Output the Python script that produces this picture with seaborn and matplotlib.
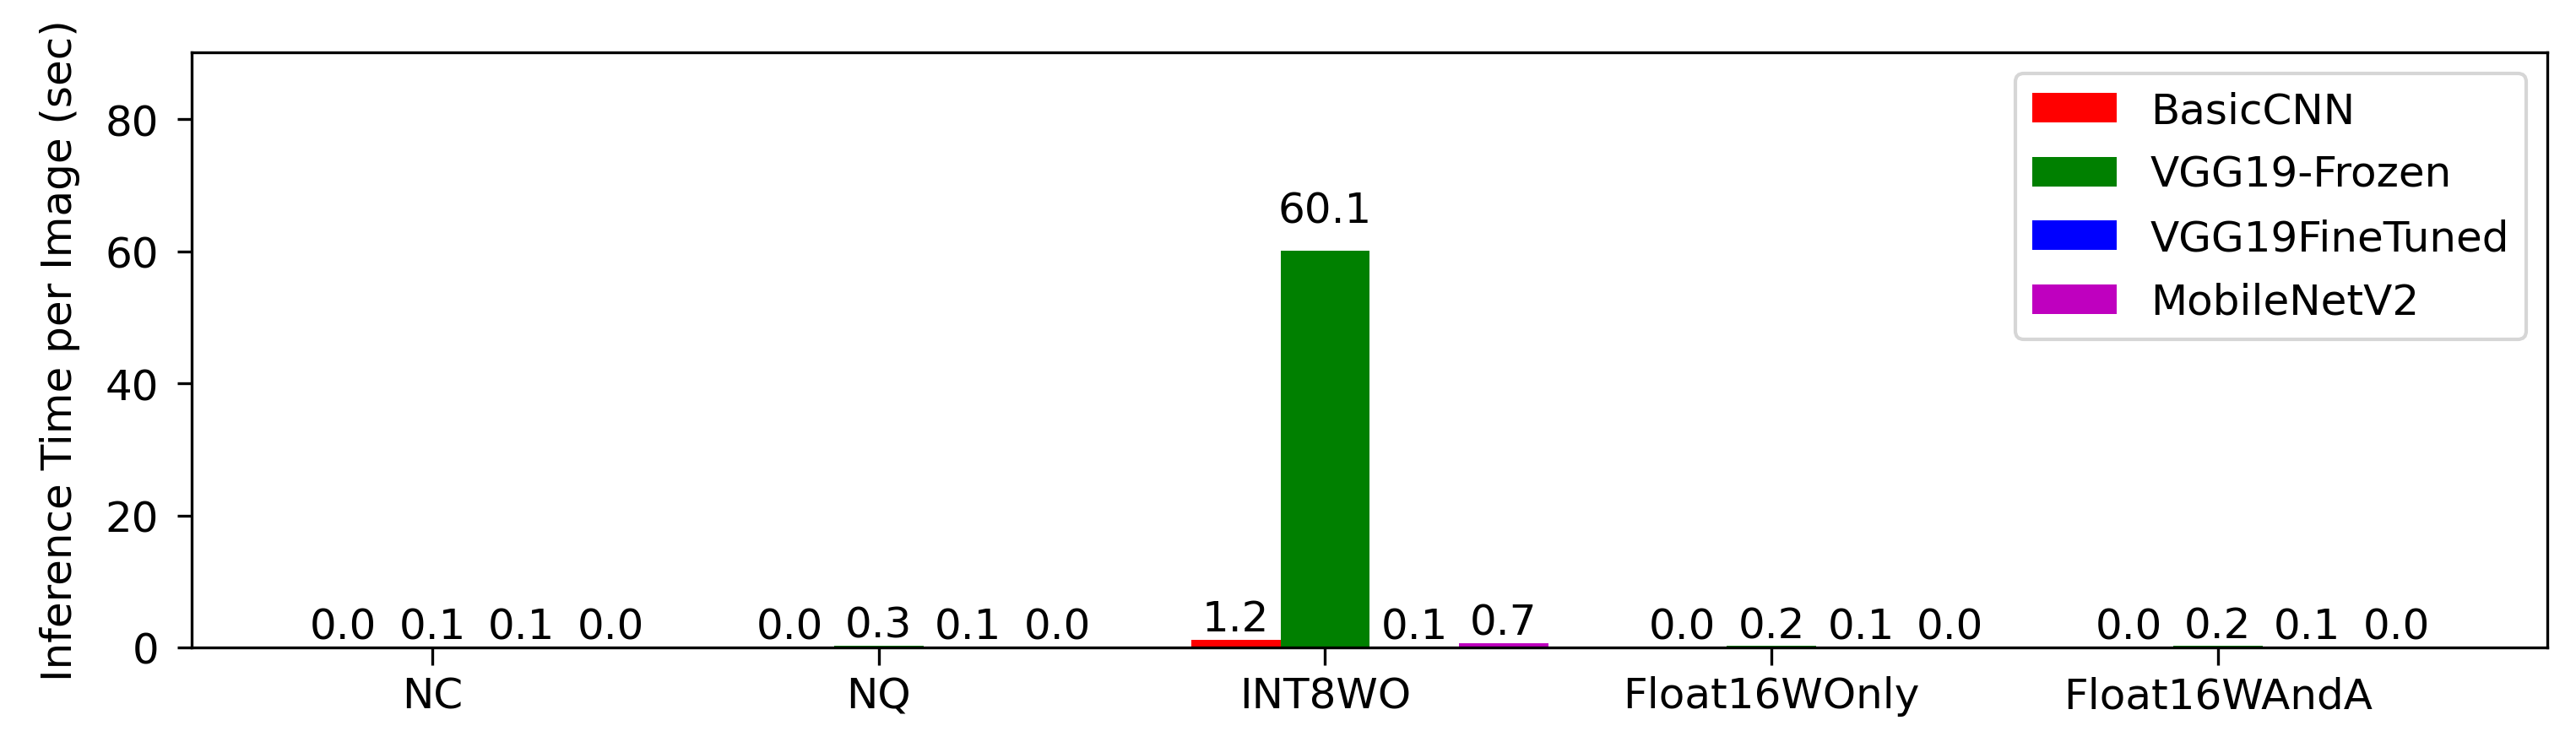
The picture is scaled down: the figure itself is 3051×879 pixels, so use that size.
import numpy as np
import pandas as pd
import matplotlib
matplotlib.use("Agg")
import matplotlib.pyplot as plt
import seaborn as sns

categories = ["NC", "NQ", "INT8WO", "Float16WOnly", "Float16WAndA"]
models = ["BasicCNN", "VGG19-Frozen", "VGG19FineTuned", "MobileNetV2"]
basic_cnn = [0.02, 0.02, 1.2, 0.02, 0.02]
vgg19_frozen = [0.1, 0.3, 60.1, 0.2, 0.2]
vgg19_finetuned = [0.1, 0.1, 0.1, 0.1, 0.1]
mobilenet_v2 = [0.02, 0.02, 0.7, 0.02, 0.02]
colors = ["#ff0000", "#008000", "#0000ff", "#bf00bf"]

series = [basic_cnn, vgg19_frozen, vgg19_finetuned, mobilenet_v2]
rows = []
for m, vals in zip(models, series):
    for c, v in zip(categories, vals):
        rows.append({"category": c, "model": m, "value": v})
df = pd.DataFrame(rows)

plt.rcParams["font.family"] = ["DejaVu Sans"]
FS = 12

fig = plt.figure(figsize=(3051 / 300, 880 / 300), dpi=300)
ax = fig.add_subplot(111)
fig.subplots_adjust(left=0.0744, right=0.9889, bottom=0.1273, top=0.9284)

sns.barplot(data=df, x="category", y="value", hue="model", order=categories,
            hue_order=models, palette=colors, saturation=1, width=0.8,
            errorbar=None, linewidth=0, ax=ax)

for cont in ax.containers:
    for bar in cont:
        h = bar.get_height()
        ax.text(bar.get_x() + bar.get_width() / 2, 1.05 * h, f"{h:.1f}",
                ha="center", va="bottom", fontsize=FS)

ax.set_xticks(np.arange(len(categories)) - 0.1)
ax.set_xticklabels(categories, fontsize=FS)
ax.set_xlim(-0.639, len(categories) - 0.362)
ax.set_ylim(0, 90.15)
ax.set_yticks([0, 20, 40, 60, 80])
ax.tick_params(axis="y", labelsize=FS, length=4, pad=5.3)
ax.tick_params(axis="x", labelsize=FS, length=5, pad=3)
ax.set_xlabel("")
ax.set_ylabel("Inference Time per Image (sec)", fontsize=FS, labelpad=7)

ax.legend(loc="upper right", fontsize=FS, title=None, labelspacing=0.55)

fig.savefig("out.png", dpi=300)
